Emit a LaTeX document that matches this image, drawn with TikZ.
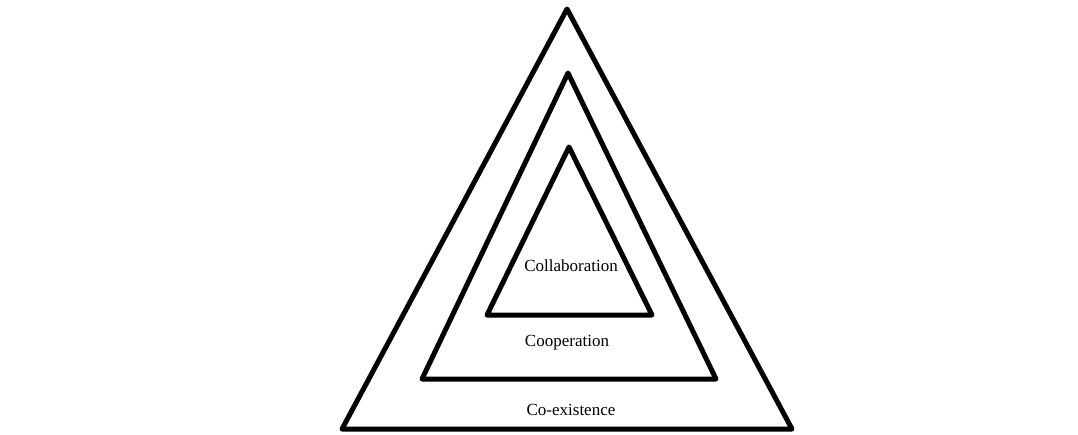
\documentclass[tikz,border=0pt]{standalone}
\usepackage{fontspec}
\setmainfont{Liberation Serif}
\begin{document}
\begin{tikzpicture}[x=1pt,y=-1pt,
  tri/.style={draw=black,line width=5pt,line join=round},
  lbl/.style={font=\fontsize{17}{19}\selectfont,inner sep=0pt}]
\useasboundingbox (0,0) rectangle (1078,434);
\draw[tri] (567,9) -- (792,429) -- (342,429) -- cycle;
\draw[tri] (568,73) -- (716,379) -- (422,379) -- cycle;
\draw[tri] (569,147) -- (652,315) -- (487,315) -- cycle;
\node[lbl] (collab) at (571,266) {Collaboration};
\node[lbl] (coop) at (567,343) {Cooperation};
\node[lbl] (coex) at (571,410) {Co-existence};
\end{tikzpicture}
\end{document}
